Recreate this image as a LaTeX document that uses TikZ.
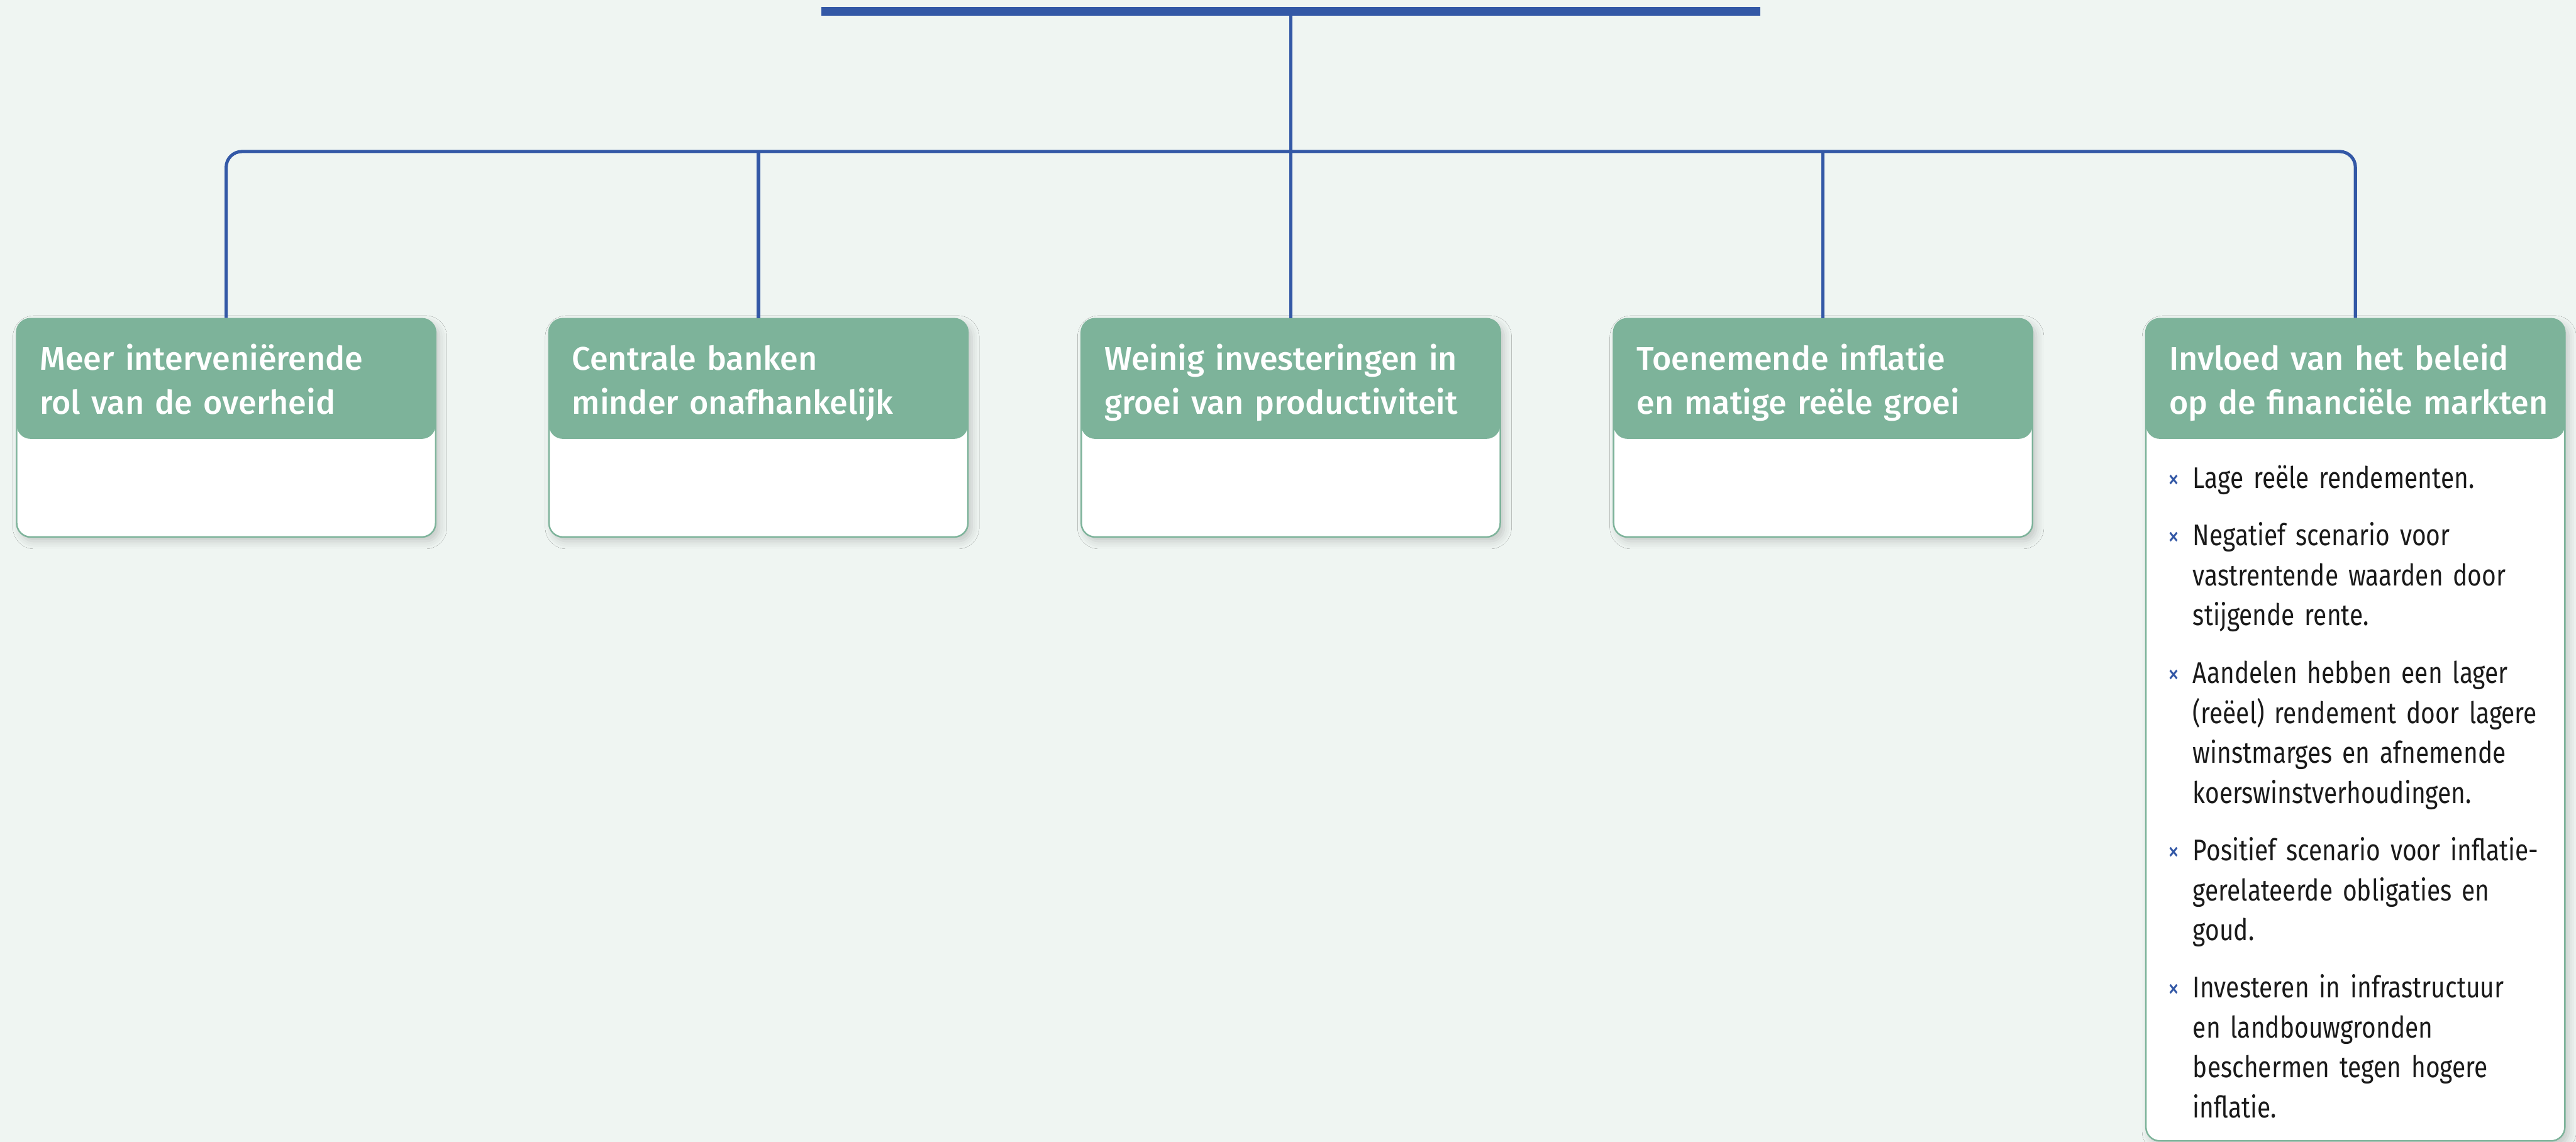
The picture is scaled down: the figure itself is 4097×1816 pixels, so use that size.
\documentclass[tikz,border=0pt]{standalone}
\usepackage{fontspec}
\setmainfont{Fira Sans}
\newfontfamily\headfont{Fira Sans Medium}
\newfontfamily\bodyfont[FakeStretch=0.82]{Fira Sans}
\usetikzlibrary{shadows.blur}
\definecolor{nnbg}{RGB}{239,245,242}
\definecolor{nngreen}{RGB}{125,179,154}
\definecolor{nnblue}{RGB}{51,88,166}
\definecolor{nntext}{RGB}{26,26,26}
\begin{document}
\begin{tikzpicture}[x=0.01cm,y=-0.01cm,
  link/.style={draw=nnblue, line width=1.45pt},
  card/.style={rectangle, rounded corners=0.22cm, draw=nngreen, line width=0.7pt,
    fill=white, minimum width=6.66cm, inner sep=0pt, anchor=north,
    blur shadow={shadow xshift=0.06cm, shadow yshift=-0.07cm,
      shadow blur radius=0.12cm, shadow opacity=18},
    path picture={\fill[nngreen] (path picture bounding box.north west)
      rectangle ([yshift=-1.91cm]path picture bounding box.north east);}},
  head/.style={anchor=base west, inner sep=0pt, text width=7.5cm, align=left,
    text=white, font=\headfont\fontsize{14.8}{19.75}\selectfont},
  item/.style={anchor=base west, inner sep=0pt, text width=7cm, align=left,
    text=nntext, font=\bodyfont\fontsize{13.5}{18.07}\selectfont},
  cross/.style={anchor=base, inner sep=0pt, text=nnblue,
    font=\bodyfont\fontsize{12.5}{14}\selectfont}]

% canvas
\fill[nnbg] (0,0) rectangle (4097,1816);
\useasboundingbox (0,0) rectangle (4097,1816);

% cards
\node[card, minimum height=3.47cm]  (b1) at (359.7,505.7) {};
\node[card, minimum height=3.47cm]  (b2) at (1206.3,505.7) {};
\node[card, minimum height=3.47cm]  (b3) at (2052.9,505.7) {};
\node[card, minimum height=3.47cm]  (b4) at (2899.5,505.7) {};
\node[card, minimum height=13.07cm] (b5) at (3746.1,505.7) {};

% card titles
\node[head] (h1) at (62.7,589)   {Meer interveniërende\\rol van de overheid};
\node[head] (h2) at (909.3,589)  {Centrale banken\\minder onafhankelijk};
\node[head] (h3) at (1755.9,589) {Weinig investeringen in\\groei van productiviteit};
\node[head] (h4) at (2602.5,589) {Toenemende inflatie\\en matige reële groei};
\node[head] (h5) at (3449.1,589) {Invloed van het beleid\\op de financiële markten};

% list in the last card
\node[cross] (x1) at (3457,777)  {×};
\node[item]  (t1) at (3487,777)  {Lage reële rendementen.};
\node[cross] (x2) at (3457,868)  {×};
\node[item]  (t2) at (3487,868)  {Negatief scenario voor\\vastrentende waarden door\\stijgende rente.};
\node[cross] (x3) at (3457,1087) {×};
\node[item]  (t3) at (3487,1087) {Aandelen hebben een lager\\(reëel) rendement door lagere\\winstmarges en afnemende\\koerswinstverhoudingen.};
\node[cross] (x4) at (3457,1369) {×};
\node[item]  (t4) at (3487,1369) {Positief scenario voor inflatie-\\gerelateerde obligaties en\\goud.};
\node[cross] (x5) at (3457,1587) {×};
\node[item]  (t5) at (3487,1587) {Investeren in infrastructuur\\en landbouwgronden\\beschermen tegen hogere\\inflatie.};

% top bar and tree connectors
\node[fill=nnblue, minimum width=14.93cm, minimum height=0.135cm, inner sep=0pt] (top) at (2052.9,18) {};
\coordinate (rail) at (0,241);
\draw[link] (top.south) -- (b3.north);
\draw[link, rounded corners=0.25cm] (b1.north) -- (b1.north |- rail) -- (b5.north |- rail) -- (b5.north);
\draw[link] (b2.north |- rail) -- (b2.north);
\draw[link] (b4.north |- rail) -- (b4.north);
\end{tikzpicture}
\end{document}
